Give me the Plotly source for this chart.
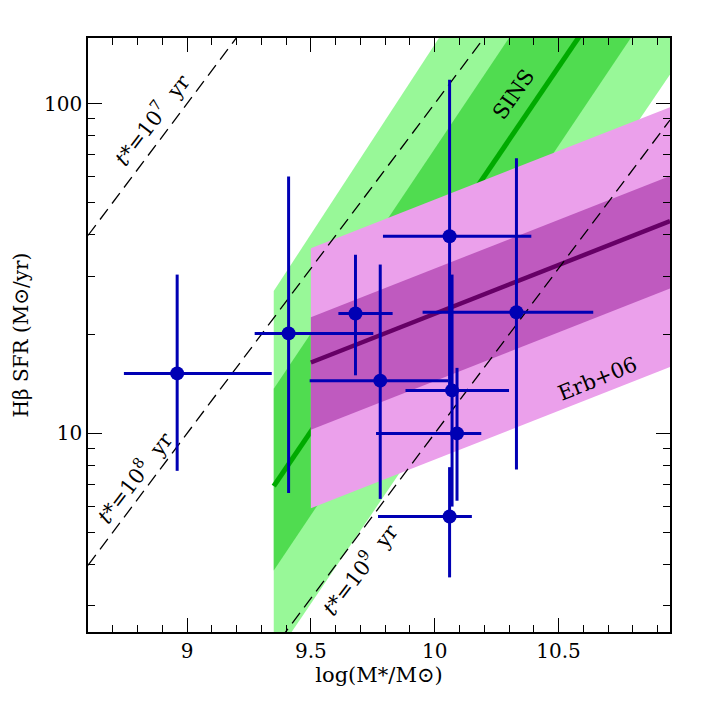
import numpy as np
import plotly.graph_objects as go

# galaxies: stellar mass (log) and H-beta SFR, with asymmetric error ranges
mass = [8.96, 9.41, 9.68, 9.78, 10.06, 10.07, 10.09, 10.06, 10.33]
mass_lo = [8.745, 9.273, 9.611, 9.495, 9.791, 9.882, 9.763, 9.771, 9.951]
mass_hi = [9.342, 9.752, 9.830, 10.054, 10.390, 10.300, 10.188, 10.150, 10.640]
sfr = [15.2, 20.1, 23.1, 14.45, 39.6, 13.5, 10.0, 5.6, 23.3]
sfr_lo = [7.7, 6.6, 15.0, 6.33, 14.0, 6.0, 6.25, 3.66, 7.77]
sfr_hi = [30.3, 60.1, 34.8, 32.5, 118.0, 30.3, 15.8, 7.9, 68.2]

# SINS relation: band edges at the two mass ends
sins_mass = [9.35, 10.95]
sins_mid = [6.92, 405.5]
sins_in_lo = [3.84, 237.7]
sins_in_hi = [13.65, 845.0]
sins_out_lo = [2.08, 122.5]
sins_out_hi = [27.0, 1871.0]

# Erb+06 relation
erb_mass = [9.5, 10.95]
erb_mid = [16.4, 44.0]
erb_in_lo = [10.26, 27.5]
erb_in_hi = [22.5, 60.3]
erb_out_lo = [5.93, 15.9]
erb_out_hi = [36.4, 97.5]

# constant-SFR timescales t* (log yr)
tstar = [7, 8, 9]
mass_line = [8.6, 10.95]

FONT = "DejaVu Serif"
BLUE = "#0000b4"

fig = go.Figure()


def band(xs, lo, hi, color):
    fig.add_trace(go.Scatter(x=[xs[0], xs[1], xs[1], xs[0]],
                             y=[lo[0], lo[1], hi[1], hi[0]],
                             fill='toself', fillcolor=color, mode='lines',
                             line=dict(width=0), hoverinfo='skip'))


band(sins_mass, sins_out_lo, sins_out_hi, '#98f898')
band(sins_mass, sins_in_lo, sins_in_hi, '#50dc50')
fig.add_trace(go.Scatter(x=sins_mass, y=sins_mid, mode='lines',
                         line=dict(color='#00aa00', width=5), hoverinfo='skip'))

band(erb_mass, erb_out_lo, erb_out_hi, '#eba0eb')
band(erb_mass, erb_in_lo, erb_in_hi, '#bf5abf')
fig.add_trace(go.Scatter(x=erb_mass, y=erb_mid, mode='lines',
                         line=dict(color='#660066', width=4.5), hoverinfo='skip'))

for t in tstar:
    fig.add_trace(go.Scatter(x=mass_line, y=[10 ** (m - t) for m in mass_line],
                             mode='lines', hoverinfo='skip',
                             line=dict(color='black', width=1.3, dash='13px,7px')))

fig.add_trace(go.Scatter(
    x=mass, y=sfr, mode='markers',
    marker=dict(color=BLUE, size=14),
    error_x=dict(type='data', symmetric=False,
                 array=np.subtract(mass_hi, mass), arrayminus=np.subtract(mass, mass_lo),
                 color=BLUE, thickness=3, width=0),
    error_y=dict(type='data', symmetric=False,
                 array=np.subtract(sfr_hi, sfr), arrayminus=np.subtract(sfr, sfr_lo),
                 color=BLUE, thickness=3, width=0)))

labels = [
    (8.856, 1.953, -52.5, "<i>t</i>*=10<sup>7</sup>\u00a0\u00a0yr"),
    (8.786, 0.867, -52.5, "<i>t</i>*=10<sup>8</sup>\u00a0\u00a0yr"),
    (9.695, 0.589, -52.5, "<i>t</i>*=10<sup>9</sup>\u00a0\u00a0yr"),
    (10.32, 2.028, -55, "SINS"),
    (10.656, 1.165, -22, "Erb+06"),
]
for x, y, ang, txt in labels:
    fig.add_annotation(x=x, y=y, text=txt, textangle=ang, showarrow=False,
                       font=dict(family=FONT, size=21, color='black'))

axis_common = dict(showline=True, linecolor='black', linewidth=1.5, mirror='ticks',
                   ticks='inside', tickcolor='black', tickwidth=1.2, showgrid=False,
                   zeroline=False, tickfont=dict(family=FONT, size=20, color='black'))

fig.update_xaxes(range=[8.6, 10.95], tickvals=[9, 9.5, 10, 10.5], ticklen=14,
                 minor=dict(ticks='inside', ticklen=7, dtick=0.1, tickcolor='black', tickwidth=1.2),
                 title=dict(text="log(M*/M\u2299)", font=dict(family=FONT, size=21, color='black'),
                            standoff=6),
                 **axis_common)
fig.update_yaxes(type='log', range=[np.log10(2.5), np.log10(158)],
                 tickvals=[10, 100], ticktext=['10', '100'], ticklen=14,
                 minor=dict(ticks='inside', ticklen=7, dtick='D1', tickcolor='black', tickwidth=1.2),
                 title=dict(text="H\u03b2 SFR (M\u2299/yr)", font=dict(family=FONT, size=20, color='black'),
                            standoff=10),
                 **axis_common)

# page body has an 8px margin, so the figure is 692 wide and shifted in by 8
fig.update_layout(width=692, height=692, showlegend=False,
                  paper_bgcolor='white', plot_bgcolor='white',
                  margin=dict(l=68, r=30, t=30, b=68))

fig.write_html("out.html")
